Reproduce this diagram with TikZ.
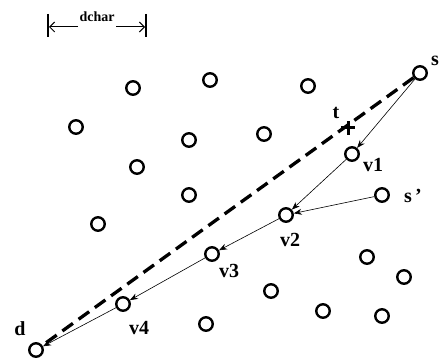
\documentclass[tikz,border=0pt]{standalone}
\usepackage{fontspec}
\setmainfont{Liberation Serif}
\usetikzlibrary{arrows.meta}
\begin{document}
\begin{tikzpicture}[x=1pt,y=-1pt,
  pt/.style={circle,draw,line width=2.4pt,minimum size=13.5pt,inner sep=0pt},
  lbl/.style={font=\bfseries\fontsize{20}{20}\selectfont,inner sep=0pt},
  hop/.style={-{Stealth[length=8pt,width=6pt]},line width=0.6pt}]
\useasboundingbox (0,0) rectangle (441,358);
% nodes
\node[pt] (s) at (420,73) {};
\node[pt] (v1) at (352,154) {};
\node[pt] (v2) at (286,215) {};
\node[pt] (v3) at (212,254) {};
\node[pt] (v4) at (123,304) {};
\node[pt] (d) at (36,350) {};
\node[pt] (sp) at (382,195) {};
% other nodes
\node[pt] (o1) at (133,88) {};
\node[pt] (o2) at (210,80) {};
\node[pt] (o3) at (308,86) {};
\node[pt] (o4) at (76,127) {};
\node[pt] (o5) at (189,140) {};
\node[pt] (o6) at (264,134) {};
\node[pt] (o7) at (137,167) {};
\node[pt] (o8) at (189,195) {};
\node[pt] (o9) at (98,224) {};
\node[pt] (o10) at (367,257) {};
\node[pt] (o11) at (404,277) {};
\node[pt] (o12) at (271,291) {};
\node[pt] (o13) at (323,311) {};
\node[pt] (o14) at (382,316) {};
\node[pt] (o15) at (206,324) {};
% dashed line
\draw[line width=3.3pt,dash pattern=on 13pt off 7pt] (s) -- (d);
% t cross
\coordinate (t) at (348,128);
\draw[line width=3pt] ([xshift=-7pt]t) -- ([xshift=7pt]t) ([yshift=-7pt]t) -- ([yshift=7pt]t);
% hops
\draw[hop] (s) -- (v1);
\draw[hop] (v1) -- (v2);
\draw[hop] (sp) -- (v2);
\draw[hop] (v2) -- (v3);
\draw[hop] (v3) -- (v4);
\draw[hop] (v4) -- (d);
% labels
\node[lbl] (ls) at (435,61) {s};
\node[lbl] (lt) at (336,113) {t};
\node[lbl] (lv1) at (373,165) {v1};
\node[lbl] (lsp) at (413,196) {s\,'};
\node[lbl] (lv2) at (290,240) {v2};
\node[lbl] (lv3) at (229,271) {v3};
\node[lbl] (lv4) at (139,328) {v4};
\node[lbl] (ld) at (20,329) {d};
% dchar
\coordinate (bl1) at (48,14);
\coordinate (bl2) at (48,37);
\coordinate (br1) at (146,14);
\coordinate (br2) at (146,37);
\draw[line width=1.8pt] (bl1) -- (bl2) (br1) -- (br2);
\node[font=\bfseries\fontsize{14}{14}\selectfont,inner sep=0pt] (dc) at (97,17) {dchar};
\coordinate (al) at (78,27);
\coordinate (ar) at (116,27);
\draw[line width=1pt,-{Straight Barb[length=5pt,width=10pt,line width=1pt]}] (al) -- (49,27);
\draw[line width=1pt,-{Straight Barb[length=5pt,width=10pt,line width=1pt]}] (ar) -- (145,27);
\end{tikzpicture}
\end{document}
